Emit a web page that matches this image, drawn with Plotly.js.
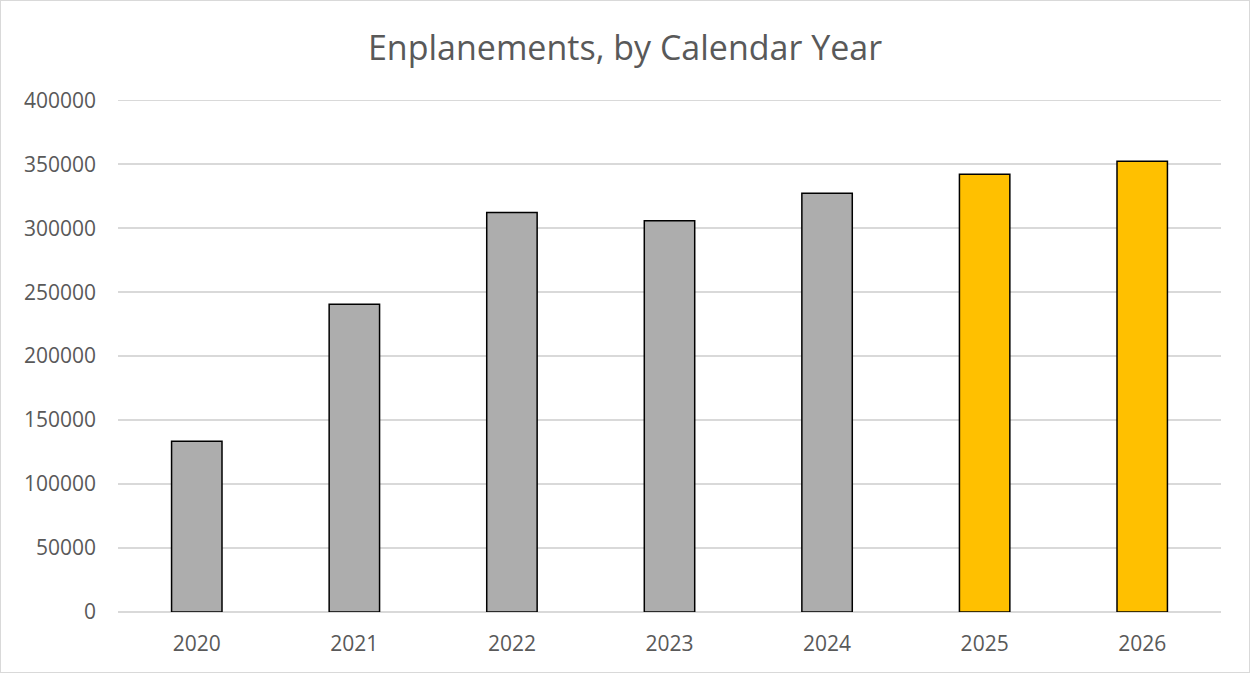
<!DOCTYPE html>
<html>
<head>
<meta charset="utf-8">
<script src="https://cdn.plot.ly/plotly-3.0.1.min.js"></script>
<style>
html, body { margin: 0; padding: 0; background: #fff; }
#chart { width: 1250px; height: 673px; box-sizing: border-box; border: 1px solid #d9d9d9; }
</style>
</head>
<body>
<div id="chart"></div>
<script>
const years = ['2020', '2021', '2022', '2023', '2024', '2025', '2026'];
const enplanements = [133500, 240600, 312200, 305900, 327300, 342200, 352300];
const barColors = ['#adadad', '#adadad', '#adadad', '#adadad', '#adadad', '#ffc000', '#ffc000'];
const yTicks = [0, 50000, 100000, 150000, 200000, 250000, 300000, 350000, 400000];

const font = 'Open Sans, Roboto, sans-serif';

Plotly.newPlot('chart', [{
  type: 'bar',
  x: years,
  y: enplanements,
  marker: { color: barColors, line: { color: '#000000', width: 1.5 } },
  hoverinfo: 'x+y'
}], {
  width: 1248,
  height: 671,
  margin: { l: 117, r: 28, t: 98, b: 60 },
  paper_bgcolor: '#ffffff',
  plot_bgcolor: '#ffffff',
  bargap: 0.68,
  showlegend: false,
  title: {
    text: 'Enplanements, by Calendar Year',
    font: { family: font, size: 34, color: '#595959' },
    x: 0.5, xanchor: 'center',
    y: 0.93, yanchor: 'middle'
  },
  xaxis: {
    type: 'category',
    tickfont: { family: font, size: 21, color: '#595959' },
    showgrid: false,
    showline: false,
    ticks: '',
    ticklabelstandoff: 17
  },
  yaxis: {
    range: [0, 401000],
    tickvals: yTicks,
    ticktext: yTicks.map(String),
    tickfont: { family: font, size: 21, color: '#595959' },
    showgrid: true,
    gridcolor: '#d9d9d9',
    gridwidth: 1.5,
    zeroline: true,
    zerolinecolor: '#d9d9d9',
    zerolinewidth: 1.5,
    showline: false,
    ticks: '',
    ticklabelstandoff: 21
  }
}, { displayModeBar: false, staticPlot: true });
</script>
</body>
</html>
